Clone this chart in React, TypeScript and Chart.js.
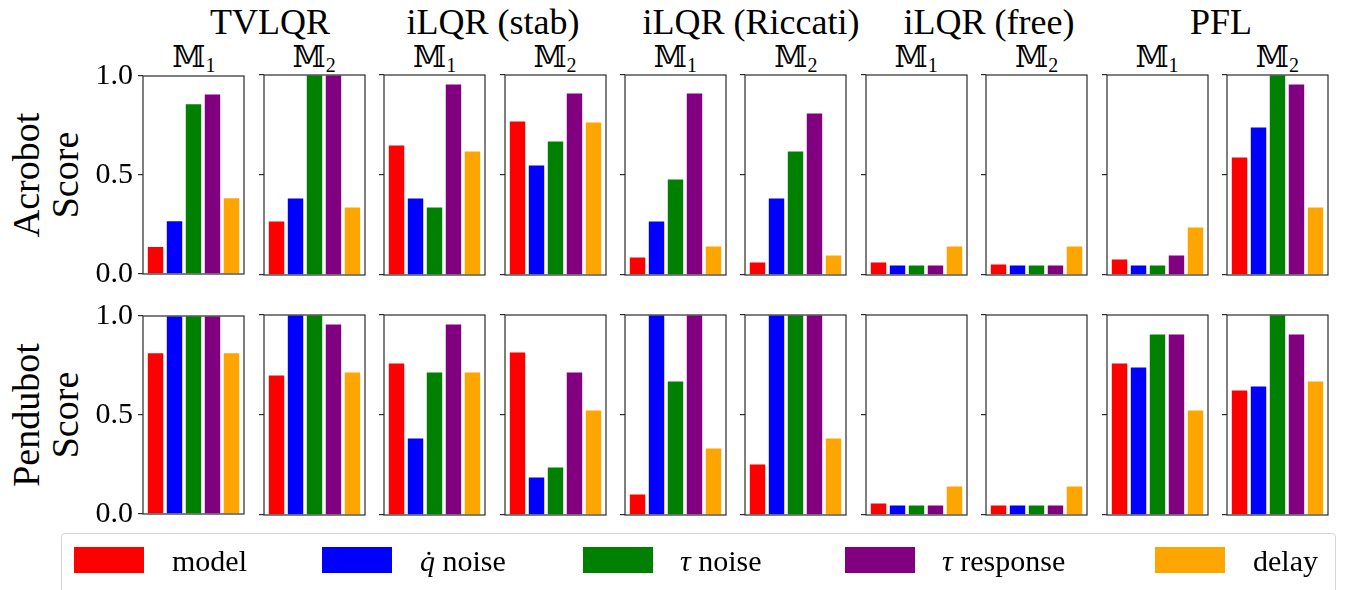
import React, { useEffect, useRef } from 'react';
import { Chart, registerables } from 'chart.js';

Chart.register(...registerables);

// ---------------- data ----------------
const categories = ['model', 'q̇ noise', 'τ noise', 'τ response', 'delay'];
const colors = ['#ff0000', '#0000ff', '#008000', '#800080', '#ffa500'];
const controllers = ['TVLQR', 'iLQR (stab)', 'iLQR (Riccati)', 'iLQR (free)', 'PFL'];
const modelSubscripts = ['1', '2'];
const robots = ['Acrobot', 'Pendubot'];
const yTicks = [0, 0.5, 1];

// panel order: TVLQR M1, TVLQR M2, iLQR(stab) M1, iLQR(stab) M2, iLQR(Riccati) M1, M2, iLQR(free) M1, M2, PFL M1, M2
const acrobotModel = [0.14, 0.27, 0.65, 0.77, 0.09, 0.065, 0.065, 0.055, 0.08, 0.59];
const acrobotQdotNoise = [0.27, 0.385, 0.385, 0.55, 0.27, 0.385, 0.05, 0.05, 0.05, 0.74];
const acrobotTauNoise = [0.86, 1.0, 0.34, 0.67, 0.48, 0.62, 0.05, 0.05, 0.05, 1.0];
const acrobotTauResponse = [0.91, 1.0, 0.955, 0.91, 0.91, 0.81, 0.05, 0.05, 0.1, 0.955];
const acrobotDelay = [0.385, 0.34, 0.62, 0.765, 0.145, 0.1, 0.145, 0.145, 0.24, 0.34];

const pendubotModel = [0.815, 0.7, 0.76, 0.815, 0.105, 0.255, 0.06, 0.05, 0.76, 0.625];
const pendubotQdotNoise = [1.0, 1.0, 0.385, 0.19, 1.0, 1.0, 0.05, 0.05, 0.74, 0.645];
const pendubotTauNoise = [1.0, 1.0, 0.715, 0.24, 0.67, 1.0, 0.05, 0.05, 0.905, 1.0];
const pendubotTauResponse = [1.0, 0.955, 0.955, 0.715, 1.0, 1.0, 0.05, 0.05, 0.905, 0.905];
const pendubotDelay = [0.815, 0.715, 0.715, 0.525, 0.335, 0.385, 0.145, 0.145, 0.525, 0.67];

const acrobotSeries = [acrobotModel, acrobotQdotNoise, acrobotTauNoise, acrobotTauResponse, acrobotDelay];
const pendubotSeries = [pendubotModel, pendubotQdotNoise, pendubotTauNoise, pendubotTauResponse, pendubotDelay];
const robotSeries = [acrobotSeries, pendubotSeries];

// ---------------- layout ----------------
const FONT = "'Liberation Serif', 'DejaVu Serif', serif";
const PANEL_X0 = 143.3;
const PANEL_PITCH = 120.4;
const PANEL_W = 101;
const PANEL_H = 200;
const ROW_TOPS = [75, 315];
const PAD = 22;
const TITLE_CENTERS = [270, 493, 751, 989, 1221];
const LEGEND_PATCH_LEFT = [74, 322, 583, 845, 1155];
const LEGEND_TEXT_LEFT = [172, 420, 680, 942, 1253];

const framePlugin = {
  id: 'frame',
  afterDraw(chart: any) {
    const { ctx, chartArea } = chart;
    ctx.save();
    ctx.strokeStyle = '#2b2b2b';
    ctx.lineWidth = 1.2;
    ctx.strokeRect(chartArea.left, chartArea.top, chartArea.right - chartArea.left, chartArea.bottom - chartArea.top);
    ctx.restore();
  },
};

function Panel({ robot, panel }: { robot: number; panel: number }) {
  const ref = useRef<HTMLCanvasElement | null>(null);
  const first = panel === 0;
  const axisW = first ? 64 : 8;
  const left = Math.round(PANEL_X0 + PANEL_PITCH * panel) - axisW;
  const top = ROW_TOPS[robot] - PAD;
  const width = axisW + PANEL_W + 8;
  const height = PANEL_H + 2 * PAD;

  useEffect(() => {
    if (!ref.current) return;
    const series = robotSeries[robot];
    const chart = new Chart(ref.current, {
      type: 'bar',
      data: {
        labels: categories,
        datasets: [
          {
            data: categories.map((_, i) => ({ x: i, y: series[i][panel] })) as any,
            backgroundColor: colors,
            borderColor: 'rgba(255,255,255,0.5)',
            borderWidth: 0.6,
            barPercentage: 0.88,
            categoryPercentage: 1,
          },
        ],
      },
      options: {
        animation: false,
        responsive: false,
        maintainAspectRatio: false,
        layout: { padding: { left: 0, top: PAD, right: 8, bottom: PAD } },
        plugins: { legend: { display: false }, tooltip: { enabled: false } },
        scales: {
          x: {
            type: 'linear',
            min: -0.66,
            max: 4.66,
            offset: false,
            display: false,
            afterBuildTicks: (s: any) => {
              s.ticks = categories.map((_, i) => ({ value: i }));
            },
          },
          y: {
            min: 0,
            max: 1,
            afterBuildTicks: (s: any) => {
              s.ticks = yTicks.map((v) => ({ value: v }));
            },
            afterFit: (s: any) => {
              s.width = axisW;
            },
            ticks: {
              display: first,
              color: '#000',
              padding: 5,
              font: { family: FONT, size: 30 },
              callback: (v: any) => Number(v).toFixed(1),
            },
            grid: {
              drawOnChartArea: false,
              drawTicks: true,
              tickLength: 5,
              color: '#2b2b2b',
              lineWidth: 1.2,
            },
            border: { display: false },
          },
        },
      } as any,
      plugins: [framePlugin],
    });
    return () => chart.destroy();
  }, [robot, panel]);

  return (
    <canvas
      ref={ref}
      width={width}
      height={height}
      style={{ position: 'absolute', left, top, width, height }}
    />
  );
}

export default function App() {
  const panels: React.ReactNode[] = [];
  for (let r = 0; r < robots.length; r++) {
    for (let p = 0; p < controllers.length * modelSubscripts.length; p++) {
      panels.push(<Panel key={`${r}-${p}`} robot={r} panel={p} />);
    }
  }
  return (
    <div
      style={{
        position: 'absolute',
        left: 0,
        top: 0,
        width: 1348,
        height: 590,
        background: '#fff',
        overflow: 'hidden',
        fontFamily: FONT,
        color: '#000',
      }}
    >
      {controllers.map((c, i) => (
        <div
          key={c}
          style={{
            position: 'absolute',
            left: TITLE_CENTERS[i] - 150,
            width: 300,
            top: 4,
            textAlign: 'center',
            fontSize: 36,
            lineHeight: '36px',
            whiteSpace: 'nowrap',
          }}
        >
          {c}
        </div>
      ))}
      {controllers.map((c, i) =>
        modelSubscripts.map((m, j) => {
          const p = i * 2 + j;
          const cx = PANEL_X0 + PANEL_PITCH * p + PANEL_W / 2;
          return (
            <div
              key={`${c}-${m}`}
              style={{
                position: 'absolute',
                left: cx - 60,
                width: 120,
                top: 42,
                textAlign: 'center',
                fontSize: 30,
                lineHeight: '30px',
                whiteSpace: 'nowrap',
              }}
            >
              <span>𝕄</span>
              <span style={{ fontSize: 20, position: 'relative', top: 5 }}>{m}</span>
            </div>
          );
        })
      )}
      {robots.map((rb, r) => (
        <div
          key={rb}
          style={{
            position: 'absolute',
            left: 46 - 100,
            top: ROW_TOPS[r] + PANEL_H / 2 - 39,
            width: 200,
            height: 78,
            textAlign: 'center',
            fontSize: 38,
            lineHeight: '39px',
            transform: 'rotate(-90deg)',
            whiteSpace: 'nowrap',
          }}
        >
          <div>{rb}</div>
          <div>Score</div>
        </div>
      ))}
      {panels}
      <div
        style={{
          position: 'absolute',
          left: 61,
          top: 533,
          width: 1275,
          height: 70,
          border: '1px solid #d4d4d4',
          borderRadius: 4,
          boxSizing: 'border-box',
        }}
      />
      {categories.map((c, i) => (
        <React.Fragment key={c}>
          <div
            style={{
              position: 'absolute',
              left: LEGEND_PATCH_LEFT[i],
              top: 547,
              width: 70,
              height: 26,
              background: colors[i],
            }}
          />
          <div
            style={{
              position: 'absolute',
              left: LEGEND_TEXT_LEFT[i],
              top: 546,
              fontSize: 30,
              lineHeight: '30px',
              whiteSpace: 'nowrap',
            }}
          >
            {i === 1 ? (
              <>
                <i>q̇</i> noise
              </>
            ) : i === 2 ? (
              <>
                <i>τ</i> noise
              </>
            ) : i === 3 ? (
              <>
                <i>τ</i> response
              </>
            ) : (
              c
            )}
          </div>
        </React.Fragment>
      ))}
    </div>
  );
}
